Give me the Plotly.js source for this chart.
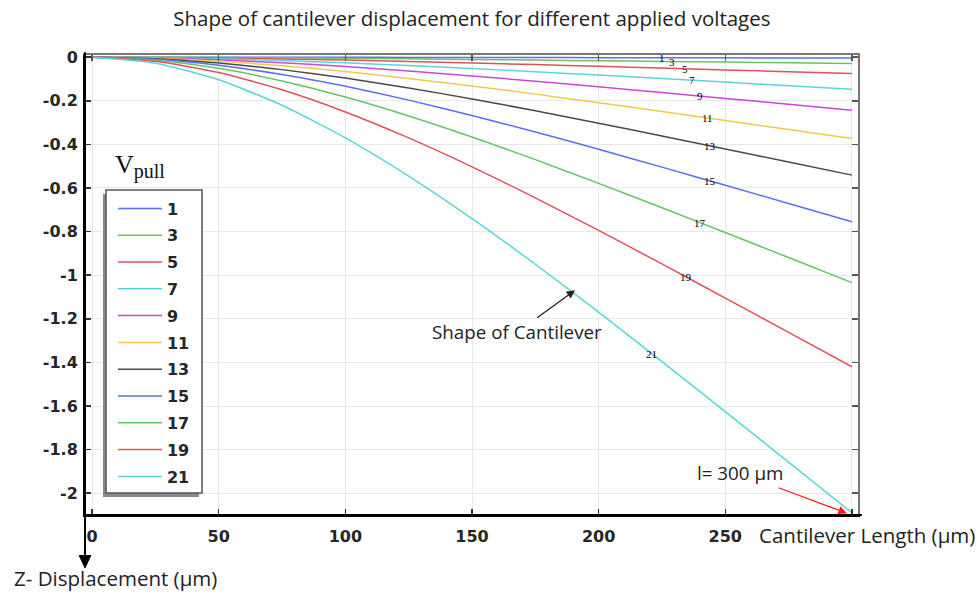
<!DOCTYPE html>
<html><head><meta charset="utf-8">
<script src="https://cdn.plot.ly/plotly-3.0.1.min.js"></script>
<style>html,body{margin:0;padding:0;background:#fff}</style>
</head><body><div id="chart" style="width:979px;height:594px"></div>
<script>
// Cantilever length positions (µm)
const lengthUm = [0, 25, 50, 75, 100, 125, 150, 175, 200, 225, 250, 275, 300];
// Applied pull voltages
const voltages = [1, 3, 5, 7, 9, 11, 13, 15, 17, 19, 21];
// Z-displacement (µm) for each voltage
const dispV1  = [0, -0.0001, -0.0002, -0.0004, -0.0007, -0.0010, -0.0014, -0.0018, -0.0022, -0.0027, -0.0031, -0.0036, -0.004];
const dispV3  = [0, -0.0004, -0.0014, -0.0031, -0.0051, -0.0076, -0.0103, -0.0132, -0.0162, -0.0194, -0.0226, -0.0258, -0.029];
const dispV5  = [0, -0.0010, -0.0037, -0.0079, -0.0133, -0.0196, -0.0266, -0.0341, -0.0420, -0.0501, -0.0584, -0.0667, -0.075];
const dispV7  = [0, -0.0019, -0.0073, -0.0155, -0.0260, -0.0383, -0.0521, -0.0668, -0.0823, -0.0982, -0.1144, -0.1307, -0.147];
const dispV9  = [0, -0.0032, -0.0121, -0.0256, -0.0430, -0.0634, -0.0861, -0.1104, -0.1360, -0.1623, -0.1891, -0.2160, -0.243];
const dispV11 = [0, -0.0049, -0.0185, -0.0393, -0.0660, -0.0973, -0.1321, -0.1695, -0.2088, -0.2492, -0.2902, -0.3316, -0.373];
const dispV13 = [0, -0.0071, -0.0269, -0.0571, -0.0957, -0.1411, -0.1916, -0.2459, -0.3028, -0.3614, -0.4209, -0.4809, -0.541];
const dispV15 = [0, -0.0099, -0.0375, -0.0796, -0.1336, -0.1969, -0.2674, -0.3431, -0.4225, -0.5043, -0.5874, -0.6711, -0.755];
const dispV17 = [0, -0.0136, -0.0513, -0.1091, -0.1830, -0.2697, -0.3662, -0.4699, -0.5787, -0.6907, -0.8045, -0.9191, -1.034];
const dispV19 = [0, -0.0186, -0.0705, -0.1498, -0.2513, -0.3704, -0.5029, -0.6454, -0.7947, -0.9485, -1.1048, -1.2623, -1.420];
const dispV21 = [0, -0.0274, -0.1037, -0.2204, -0.3698, -0.5451, -0.7402, -0.9499, -1.1697, -1.3961, -1.6261, -1.8578, -2.090];
// In-line curve label positions along the length (µm)
const labelAtLength = [225, 229, 234, 237, 240, 243, 244, 244, 240, 234.5, 221];
// Tick labels
const xTickVals = [0, 50, 100, 150, 200, 250];
const xTickText = ['0', '50', '100', '150', '200', '250'];
const xExtraTick = [300];
const yTickVals = [0, -0.2, -0.4, -0.6, -0.8, -1, -1.2, -1.4, -1.6, -1.8, -2];
const yTickText = ['0', '-0.2', '-0.4', '-0.6', '-0.8', '-1', '-1.2', '-1.4', '-1.6', '-1.8', '-2'];

const allDisp = [dispV1, dispV3, dispV5, dispV7, dispV9, dispV11, dispV13, dispV15, dispV17, dispV19, dispV21];
const lineColors = ['#5a6ff0', '#66c466', '#e0525a', '#5ad6d8', '#c94ad0', '#f2c94c', '#4a4a4a', '#5a6ff0', '#66c466', '#e0525a', '#5ad6d8'];

const traces = voltages.map((v, i) => ({
  x: lengthUm, y: allDisp[i], type: 'scatter', mode: 'lines',
  name: String(v), legendgroup: 'g' + i,
  line: {color: lineColors[i], width: 1.5, shape: 'spline', smoothing: 0.6}
}));
traces.push({x: [], y: [], xaxis: 'x2', yaxis: 'y', showlegend: false, hoverinfo: 'skip'});
traces.push({x: [], y: [], xaxis: 'x', yaxis: 'y2', showlegend: false, hoverinfo: 'skip'});

function interp(xs, ys, x) {
  for (let k = 0; k < xs.length - 1; k++) {
    if (x >= xs[k] && x <= xs[k + 1]) {
      const t = (x - xs[k]) / (xs[k + 1] - xs[k]);
      return ys[k] + t * (ys[k + 1] - ys[k]);
    }
  }
  return ys[ys.length - 1];
}

const tickFont = {family: 'DejaVu Sans', size: 16, weight: 'bold', color: '#262626'};
const textFont = {family: 'Open Sans', size: 18.8, color: '#222'};
const bigTextFont = {family: 'Open Sans', size: 20.5, color: '#222'};
const xRange = [-2.8, 302.4];
const yRange = [-2.10, 0.01];

const annotations = voltages.map((v, i) => ({
  x: labelAtLength[i], y: interp(lengthUm, allDisp[i], labelAtLength[i]),
  xref: 'x', yref: 'y', text: String(v), showarrow: false,
  font: {family: 'Liberation Serif', size: 11, color: '#000'}
}));
annotations.push(
  {xref: 'paper', yref: 'paper', x: 0.0362, y: 0.757, xanchor: 'left', yanchor: 'middle',
   text: 'V<sub><span style="font-size:20px">pull</span></sub>', showarrow: false,
   font: {family: 'Liberation Serif', size: 26, color: '#111'}},
  {xref: 'x', yref: 'y', x: 190.7, y: -1.069, ax: -58, ay: 42, text: 'Shape of Cantilever',
   showarrow: true, arrowhead: 2, arrowsize: 1.3, arrowwidth: 1.3, arrowcolor: '#222', font: textFont},
  {xref: 'x', yref: 'y', x: 298, y: -2.092, ax: -107, ay: -40, text: 'l= 300 µm',
   showarrow: true, arrowhead: 2, arrowsize: 1.3, arrowwidth: 1.3, arrowcolor: '#ff1a1a', font: textFont},
  {xref: 'paper', yref: 'paper', x: 0.869, y: -0.0435, xanchor: 'left', yanchor: 'middle',
   text: 'Cantilever Length (µm)', showarrow: false, font: bigTextFont},
  {xref: 'paper', yref: 'paper', x: -0.0944, y: -0.137, xanchor: 'left', yanchor: 'middle',
   text: 'Z- Displacement (µm)', showarrow: false, font: bigTextFont}
);

const shapes = [
  // legend shadow and box
  {type: 'rect', xref: 'paper', yref: 'paper', x0: 0.0233, x1: 0.1475, y0: 0.0391, y1: 0.6978,
   fillcolor: '#8a8a8a', line: {width: 0}, layer: 'above'},
  {type: 'rect', xref: 'paper', yref: 'paper', x0: 0.0272, x1: 0.1514, y0: 0.0478, y1: 0.7065,
   fillcolor: '#ffffff', line: {color: '#555', width: 1.5}, layer: 'above'},
  // extended black y-axis line with down arrow
  {type: 'line', xref: 'paper', yref: 'paper', x0: 0, x1: 0, y0: 1.006, y1: -0.095, line: {color: '#000', width: 2}},
  {type: 'path', xref: 'paper', yref: 'paper', path: 'M -0.0075 -0.088 L 0.0075 -0.088 L 0 -0.115 Z',
   fillcolor: '#000', line: {color: '#000', width: 1}},
  // extended bottom axis line
  {type: 'line', xref: 'paper', yref: 'paper', x0: 0, x1: 1.005, y0: 0, y1: 0, line: {color: '#000', width: 2}}
];

const layout = {
  width: 979, height: 594,
  margin: {l: 85, r: 121, t: 55, b: 79, pad: 0},
  paper_bgcolor: '#fff', plot_bgcolor: '#fff',
  title: {text: 'Shape of cantilever displacement for different applied voltages',
          font: {family: 'Open Sans', size: 20.5, color: '#222'},
          x: 0.482, xanchor: 'center', xref: 'container', y: 0.968, yanchor: 'middle', yref: 'container'},
  showlegend: true,
  legend: {x: 0.0362, y: 0.7033, xanchor: 'left', yanchor: 'top', bgcolor: 'rgba(0,0,0,0)',
           borderwidth: 0, font: tickFont, itemwidth: 44,
           traceorder: 'grouped', tracegroupgap: 3},
  xaxis: {range: xRange, tickvals: xTickVals, ticktext: xTickText, ticks: 'inside', ticklen: 6,
          tickwidth: 1.5, tickcolor: '#333', showline: true, linecolor: '#000', linewidth: 2,
          showgrid: true, gridcolor: '#e8e8e8', gridwidth: 1, zeroline: false, tickfont: tickFont,
          ticklabelstandoff: 6,
          minor: {tickvals: xExtraTick, ticks: 'inside', ticklen: 6, tickwidth: 1.5, tickcolor: '#333',
                  showgrid: true, gridcolor: '#e8e8e8', gridwidth: 1}},
  yaxis: {range: yRange, tickvals: yTickVals, ticktext: yTickText, ticks: 'inside', ticklen: 6,
          tickwidth: 1.5, tickcolor: '#333', showline: true, linecolor: '#000', linewidth: 2,
          showgrid: true, gridcolor: '#e8e8e8', gridwidth: 1, zeroline: false, tickfont: tickFont,
          ticklabelstandoff: 2},
  xaxis2: {overlaying: 'x', side: 'top', anchor: 'y', range: xRange, tickvals: xTickVals.concat(xExtraTick), ticks: 'inside',
           ticklen: 6, tickwidth: 1.5, tickcolor: '#555', showticklabels: false, showline: true,
           linecolor: '#777', linewidth: 2, showgrid: false, zeroline: false},
  yaxis2: {overlaying: 'y', side: 'right', anchor: 'x', range: yRange, tickvals: yTickVals, ticks: 'inside',
           ticklen: 6, tickwidth: 1.5, tickcolor: '#555', showticklabels: false, showline: true,
           linecolor: '#777', linewidth: 2, showgrid: false, zeroline: false},
  annotations: annotations,
  shapes: shapes
};

Plotly.newPlot('chart', traces, layout, {displayModeBar: false, staticPlot: true});
</script>
</body></html>
